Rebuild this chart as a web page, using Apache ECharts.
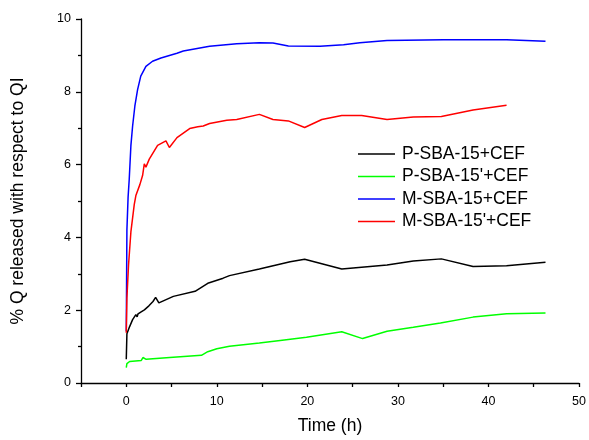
<!DOCTYPE html>
<html>
<head>
<meta charset="utf-8">
<script src="https://cdn.jsdelivr.net/npm/echarts@6/dist/echarts.min.js"></script>
<style>html,body{margin:0;padding:0;background:#fff;}#c{width:589px;height:440px;}</style>
</head>
<body>
<div id="c"></div>
<script>
var seriesNames = ["P-SBA-15+CEF", "P-SBA-15'+CEF", "M-SBA-15+CEF", "M-SBA-15'+CEF"];
var xLabelStep = 10;

var tBlack = [0, 0.07, 0.37, 0.7, 1.06, 1.2, 1.3, 1.6, 2.0, 2.5, 2.95, 3.24, 3.6, 5.2, 7.6, 9.0, 10.7, 11.4, 14.7, 18.1, 19.7, 23.8, 28.8, 31.7, 34.8, 38.3, 42, 46.3];
var vBlack = [0.65, 1.35, 1.55, 1.74, 1.88, 1.82, 1.9, 1.95, 2.01, 2.12, 2.24, 2.35, 2.2, 2.38, 2.52, 2.74, 2.88, 2.95, 3.13, 3.33, 3.40, 3.13, 3.24, 3.35, 3.41, 3.2, 3.22, 3.32];

var tGreen = [0, 0.07, 0.37, 1.66, 1.84, 2.2, 4.8, 8.3, 9.0, 10.0, 11.4, 14.7, 17.0, 19.9, 23.8, 26.1, 28.8, 31.7, 34.7, 38.3, 42, 46.3];
var vGreen = [0.42, 0.53, 0.59, 0.62, 0.70, 0.65, 0.70, 0.76, 0.86, 0.94, 1.01, 1.10, 1.17, 1.26, 1.41, 1.22, 1.42, 1.53, 1.65, 1.81, 1.90, 1.92];

var tBlue = [0, 0.07, 0.2, 0.33, 0.51, 0.7, 0.95, 1.25, 1.6, 2.17, 2.9, 3.83, 5.6, 6.3, 9.2, 12.2, 14.7, 16.2, 17.9, 21.4, 24, 25.8, 28.8, 35, 38.3, 42, 46.3];
var vBlue = [1.42, 4.2, 5.1, 5.61, 6.52, 7.06, 7.61, 8.06, 8.43, 8.70, 8.84, 8.93, 9.06, 9.12, 9.25, 9.32, 9.35, 9.34, 9.26, 9.25, 9.29, 9.35, 9.41, 9.43, 9.43, 9.43, 9.39];

var tRed = [0, 0.07, 0.25, 0.51, 0.88, 1.06, 1.5, 1.8, 1.99, 2.17, 2.54, 3.46, 4.38, 4.76, 5.6, 7.0, 7.9, 8.5, 9.2, 11.1, 12.2, 14.7, 16.2, 17.9, 19.7, 21.6, 23.8, 26, 28.8, 31.7, 34.8, 38.3, 42];
var vRed = [1.38, 2.33, 3.24, 4.15, 4.9, 5.15, 5.45, 5.7, 6.02, 5.93, 6.15, 6.53, 6.65, 6.47, 6.74, 6.99, 7.04, 7.06, 7.13, 7.22, 7.24, 7.38, 7.24, 7.2, 7.02, 7.24, 7.35, 7.35, 7.24, 7.31, 7.32, 7.5, 7.63];

var colors = ['#000000', '#00ff00', '#0000ff', '#ff0000'];
var times = [tBlack, tGreen, tBlue, tRed];
var vals = [vBlack, vGreen, vBlue, vRed];

function pairs(t, v) { var out = []; for (var i = 0; i < t.length; i++) out.push([t[i], v[i]]); return out; }

var FONT = 'Arial, "Liberation Sans", sans-serif';
var chart = echarts.init(document.getElementById('c'), null, {renderer: 'canvas'});
var series = [];
for (var i = 0; i < 4; i++) {
  series.push({
    name: seriesNames[i], type: 'line',
    data: pairs(times[i], vals[i]), symbol: 'none', showSymbol: false, smooth: false,
    lineStyle: {color: colors[i], width: 1.5}, itemStyle: {color: colors[i]}
  });
}
chart.setOption({
  animation: false,
  backgroundColor: '#fff',
  grid: {left: 81, right: 10, top: 19, bottom: 54},
  legend: {
    orient: 'vertical', left: 353, top: 140, padding: 5,
    icon: 'rect', itemWidth: 37, itemHeight: 1.5, itemGap: 4.5,
    data: seriesNames,
    textStyle: {fontFamily: FONT, fontSize: 17.5, color: '#000', padding: [0, 0, 0, 2]}
  },
  xAxis: {
    type: 'value', min: -5, max: 50, interval: 5,
    name: 'Time (h)', nameLocation: 'middle', nameGap: 34,
    nameTextStyle: {fontFamily: FONT, fontSize: 17.5, color: '#000'},
    axisLine: {show: true, onZero: false, lineStyle: {color: '#000', width: 1.3}},
    axisTick: {show: true, length: 4, lineStyle: {color: '#000', width: 1.3}},
    axisLabel: {
      show: true, fontFamily: FONT, fontSize: 12.5, color: '#000', margin: 12,
      showMinLabel: true, showMaxLabel: true, hideOverlap: false,
      formatter: function (v) { return (v % xLabelStep === 0) ? String(v) : ''; }
    },
    splitLine: {show: false}
  },
  yAxis: {
    type: 'value', min: 0, max: 10, interval: 2,
    name: '% Q released with respect to QI', nameLocation: 'middle', nameGap: 54, nameRotate: 90,
    nameTextStyle: {fontFamily: FONT, fontSize: 17.5, color: '#000'},
    axisLine: {show: true, onZero: false, lineStyle: {color: '#000', width: 1.3}},
    axisTick: {show: true, length: 5, lineStyle: {color: '#000', width: 1.3}},
    minorTick: {show: true, splitNumber: 2, length: 3, lineStyle: {color: '#000', width: 1.3}},
    axisLabel: {fontFamily: FONT, fontSize: 12.5, color: '#000', margin: 10},
    splitLine: {show: false}, minorSplitLine: {show: false}
  },
  series: series
});
</script>
</body>
</html>
